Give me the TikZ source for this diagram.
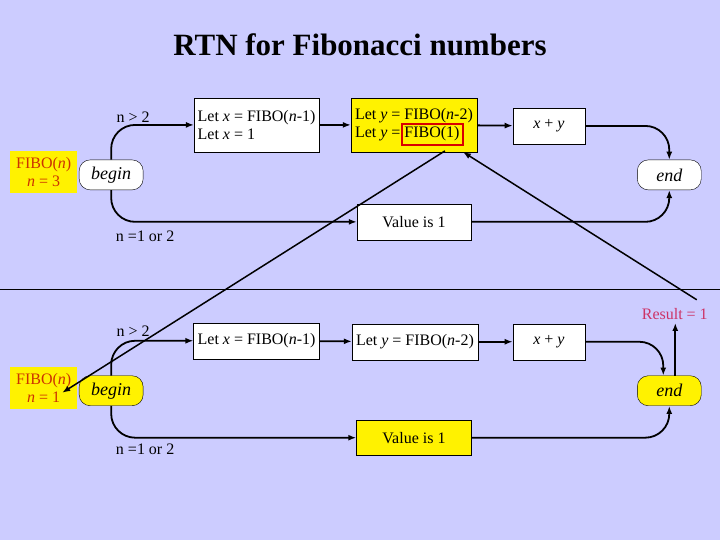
\documentclass[tikz,border=0pt]{standalone}
\usepackage{fontspec}
\setmainfont{Liberation Serif}
\usetikzlibrary{positioning, arrows.meta}

\definecolor{slide}{HTML}{CCCCFF}
\definecolor{fibo}{HTML}{CC3300}
\definecolor{result}{HTML}{CC3366}
\newcommand{\var}[1]{\textit{#1}}

\tikzset{
  box/.style={draw, fill=white, align=left, inner sep=2pt, font=\fontsize{16}{18}\selectfont},
  hl/.style={fill=yellow},
  term/.style={draw, fill=white, rounded corners=11pt, minimum width=64pt, minimum height=30pt, font=\fontsize{18}{20}\selectfont\itshape},
  call/.style={fill=yellow, minimum width=67pt, minimum height=42pt, align=center, text=fibo, inner sep=1pt, font=\fontsize{16}{18}\selectfont},
  lab/.style={font=\fontsize{16}{18}\selectfont},
  flow/.style={line width=1.8pt, -{Latex[length=8pt,width=6pt]}, rounded corners=24pt},
  jump/.style={line width=1.5pt, -{Latex[length=8pt,width=6pt]}}
}

\begin{document}
\begin{tikzpicture}[x=1pt, y=-1pt]
  \fill[slide] (0,0) rectangle (720,540);
  \node (title) at (360,45) {\fontsize{31}{34}\selectfont\bfseries RTN for Fibonacci numbers};
  \draw[line width=0.5pt] (0,289) -- (720,289);

  % top: n = 3
  \node[call] (fibA) at (43.5,172) {FIBO(\var{n})\\\var{n} = 3};
  \node[term] (beginA) at (111,175) {begin};
  \node[box, minimum width=125pt, minimum height=54pt] (xA) at (256.5,125) {Let \var{x} = FIBO(\var{n}-1)\\Let \var{x} = 1};
  \node[box, hl, minimum width=126pt, minimum height=54pt] (yA) at (414,125) {Let \var{y} = FIBO(\var{n}-2)\\Let \var{y} = FIBO(1)};
  \draw[red!85!black, line width=2pt] (402,124) rectangle (463,145);
  \node[box, minimum width=72pt, minimum height=36pt, align=center] (sumA) at (549,126) {\var{x} + \var{y}};
  \node[term] (endA) at (669.5,175) {end};
  \node[box, minimum width=114pt, minimum height=36pt, align=center] (valA) at (414,222) {Value is 1};
  \node[lab] (gtA) at (133,117) {n > 2};
  \node[lab] (leA) at (145,236) {n =1 or 2};

  \draw[flow] (beginA.north) |- (xA.west);
  \draw[flow] (xA) -- (yA);
  \draw[flow] (yA) -- (sumA);
  \draw[flow] (sumA.east) -| (endA.north);
  \draw[flow] (beginA.south) |- (valA.west);
  \draw[flow] (valA.east) -| (endA.south);

  % bottom: n = 1
  \node[call] (fibB) at (43.5,388) {FIBO(\var{n})\\\var{n} = 1};
  \node[term, hl] (beginB) at (111,391) {begin};
  \node[box, minimum width=126pt, minimum height=36pt] (xB) at (256.5,341) {Let \var{x} = FIBO(\var{n}-1)};
  \node[box, minimum width=126pt, minimum height=36pt] (yB) at (415,342) {Let \var{y} = FIBO(\var{n}-2)};
  \node[box, minimum width=72pt, minimum height=36pt, align=center] (sumB) at (549,342) {\var{x} + \var{y}};
  \node[term, hl] (endB) at (669.5,391) {end};
  \node[box, hl, minimum width=115pt, minimum height=36pt, align=center] (valB) at (414,438) {Value is 1};
  \node[lab] (gtB) at (133,331) {n > 2};
  \node[lab] (leB) at (145,450) {n =1 or 2};
  \node[lab, text=result] (res) at (675,314) {Result = 1};

  \draw[flow] (beginB.north) |- (xB.west);
  \draw[flow] (xB) -- (yB);
  \draw[flow] (yB) -- (sumB);
  \draw[flow] (sumB.east) -| ([xshift=-6pt]endB.north);
  \draw[flow] (beginB.south) |- (valB.west);
  \draw[flow] (valB.east) -| (endB.south);
  \draw[flow] ([xshift=6pt]endB.north) -- ([xshift=6pt]endB.north |- res.south);

  % calls and returns
  \coordinate (callA) at (445,151);
  \coordinate (retB) at (697,300);
  \draw[jump] (callA) -- (62,393);
  \draw[jump] (retB) -- (463,152);
\end{tikzpicture}
\end{document}
